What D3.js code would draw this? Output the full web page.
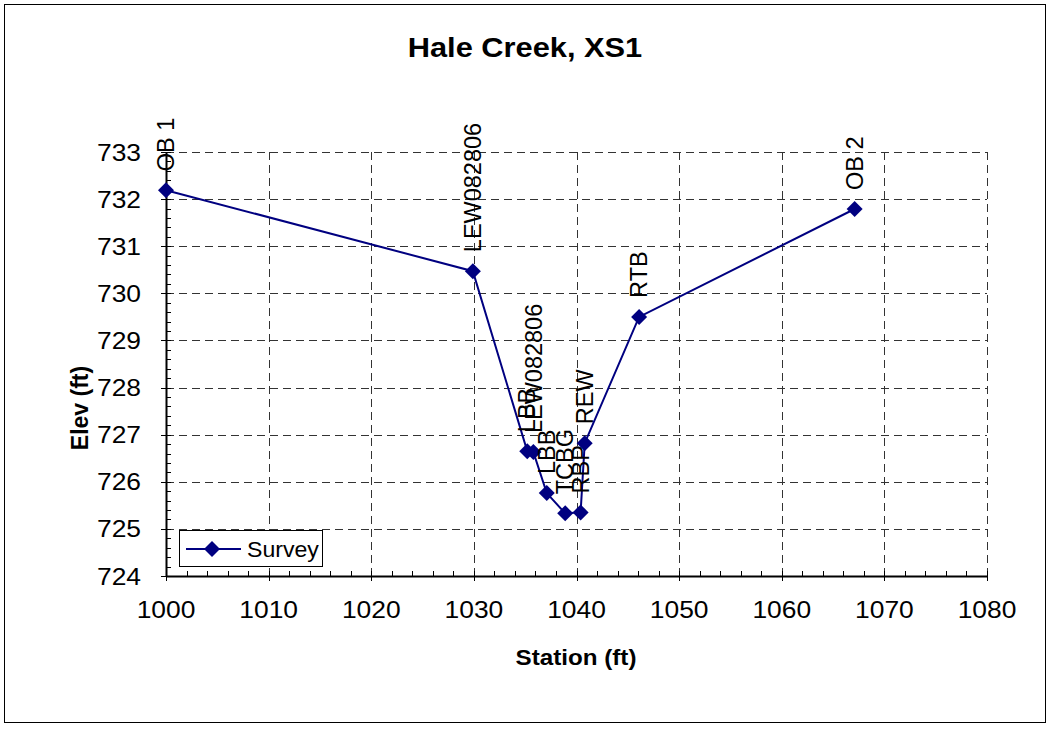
<!DOCTYPE html>
<html><head><meta charset="utf-8">
<script src="https://cdn.jsdelivr.net/npm/d3@7"></script>
<style>body{margin:0;background:#fff}svg{display:block}text{font-family:"Liberation Sans",Arial,sans-serif}</style>
</head><body><svg id="c" width="1051" height="730"></svg>
<script>
const stations = [1000, 1029.9, 1035.2, 1035.8, 1037.1, 1038.9, 1040.4, 1040.8, 1046.1, 1067.1];
const elevations = [732.19, 730.47, 726.65, 726.63, 725.76, 725.33, 725.35, 726.82, 729.5, 731.79];
const pointLabels = ["OB 1", "LEW082806", "LBB", "LEW082806", "LBB", "TCBG", "RBP", "REW", "RTB", "OB 2"];
const xTicks = [1000, 1010, 1020, 1030, 1040, 1050, 1060, 1070, 1080];
const yTicks = [724, 725, 726, 727, 728, 729, 730, 731, 732, 733];
const seriesName = "Survey";
const titleText = "Hale Creek, XS1";
const xTitle = "Station (ft)";
const yTitle = "Elev (ft)";

const svg = d3.select("#c");
const L = 166, R = 987, T = 152, B = 576;
const x = d3.scaleLinear().domain([1000, 1080]).range([L, R]);
const y = d3.scaleLinear().domain([724, 733]).range([B, T]);
const SX = 1.1;

svg.append("rect").attr("x", 4.5).attr("y", 4.5).attr("width", 1041).attr("height", 718)
  .attr("fill", "#fff").attr("stroke", "#000").attr("stroke-width", 1);

// gridlines
const g = svg.append("g");
g.selectAll(".hg").data(yTicks.filter(d => d > 724)).enter().append("line")
  .attr("x1", L).attr("x2", R).attr("y1", d => Math.round(y(d)) + 0.5).attr("y2", d => Math.round(y(d)) + 0.5)
  .attr("stroke", "#333").attr("stroke-dasharray", "8,5");
g.selectAll(".vg").data(xTicks.filter(d => d > 1000)).enter().append("line")
  .attr("y1", T).attr("y2", B).attr("x1", d => Math.round(x(d)) + 0.5).attr("x2", d => Math.round(x(d)) + 0.5)
  .attr("stroke", "#333").attr("stroke-dasharray", "8,5");

// axes
const xMinor = d3.range(1000, 1080.1, 2);
const yMinor = d3.range(724, 733.01, 0.2);
const ax = svg.append("g");
ax.selectAll(".xm").data(xMinor).enter().append("line")
  .attr("x1", d => Math.round(x(d)) + 0.5).attr("x2", d => Math.round(x(d)) + 0.5)
  .attr("y1", B).attr("y2", B - 5).attr("stroke", "#000");
ax.selectAll(".xM").data(xTicks).enter().append("line")
  .attr("x1", d => Math.round(x(d)) + 0.5).attr("x2", d => Math.round(x(d)) + 0.5)
  .attr("y1", B + 5).attr("y2", B - 5).attr("stroke", "#000");
ax.selectAll(".ym").data(yMinor).enter().append("line")
  .attr("y1", d => Math.round(y(d)) + 0.5).attr("y2", d => Math.round(y(d)) + 0.5)
  .attr("x1", L).attr("x2", L + 5).attr("stroke", "#000");
ax.selectAll(".yM").data(yTicks).enter().append("line")
  .attr("y1", d => Math.round(y(d)) + 0.5).attr("y2", d => Math.round(y(d)) + 0.5)
  .attr("x1", L - 5).attr("x2", L + 5).attr("stroke", "#000");
ax.append("line").attr("x1", L + 0.5).attr("x2", L + 0.5).attr("y1", T).attr("y2", B + 0.5).attr("stroke", "#000").attr("stroke-width", 2);
ax.append("line").attr("x1", L).attr("x2", R).attr("y1", B + 0.5).attr("y2", B + 0.5).attr("stroke", "#000").attr("stroke-width", 2);

ax.selectAll(".xl").data(xTicks).enter().append("text")
  .attr("transform", d => `translate(${x(d)},${B + 42}) scale(${SX},1)`).attr("text-anchor", "middle")
  .attr("font-size", 24).text(d => d);
ax.selectAll(".yl").data(yTicks).enter().append("text")
  .attr("transform", d => `translate(${L - 25},${y(d) + 8.5}) scale(${SX},1)`).attr("text-anchor", "end")
  .attr("font-size", 24).text(d => d);

svg.append("text").attr("transform", `translate(525,57) scale(${SX},1)`).attr("text-anchor", "middle")
  .attr("font-size", 28).attr("font-weight", "bold").text(titleText);
svg.append("text").attr("transform", `translate(576,665) scale(${SX},1)`).attr("text-anchor", "middle")
  .attr("font-size", 22).attr("font-weight", "bold").text(xTitle);
svg.append("text").attr("transform", "translate(88,408) rotate(-90)").attr("text-anchor", "middle")
  .attr("font-size", 23).attr("font-weight", "bold").text(yTitle);

// series
const data = stations.map((s, i) => ({s, e: elevations[i], l: pointLabels[i]}));
const color = "#000080";
const line = d3.line().x(d => x(d.s)).y(d => y(d.e));
svg.append("path").datum(data).attr("d", line).attr("fill", "none").attr("stroke", color).attr("stroke-width", 2);
const dsym = "M0,-8L8,0L0,8L-8,0Z";
svg.selectAll(".pt").data(data).enter().append("path")
  .attr("transform", d => `translate(${x(d.s)},${y(d.e)})`).attr("d", dsym).attr("fill", color);

svg.selectAll(".lab").data(data).enter().append("text")
  .attr("transform", d => `translate(${x(d.s)},${y(d.e) - 19}) rotate(-90)`)
  .attr("dy", "0.35em").attr("font-size", 23.5).attr("fill", "#000").text(d => d.l);

// legend
const lg = svg.append("g");
lg.append("rect").attr("x", 179.5).attr("y", 530.5).attr("width", 143).attr("height", 36)
  .attr("fill", "#fff").attr("stroke", "#000").attr("stroke-width", 1);
lg.append("line").attr("x1", 186).attr("x2", 241).attr("y1", 549).attr("y2", 549).attr("stroke", color).attr("stroke-width", 2);
lg.append("path").attr("transform", "translate(212,549)").attr("d", dsym).attr("fill", color);
lg.append("text").attr("transform", `translate(247,557) scale(1.05,1)`).attr("font-size", 22).text(seriesName);
</script></body></html>
